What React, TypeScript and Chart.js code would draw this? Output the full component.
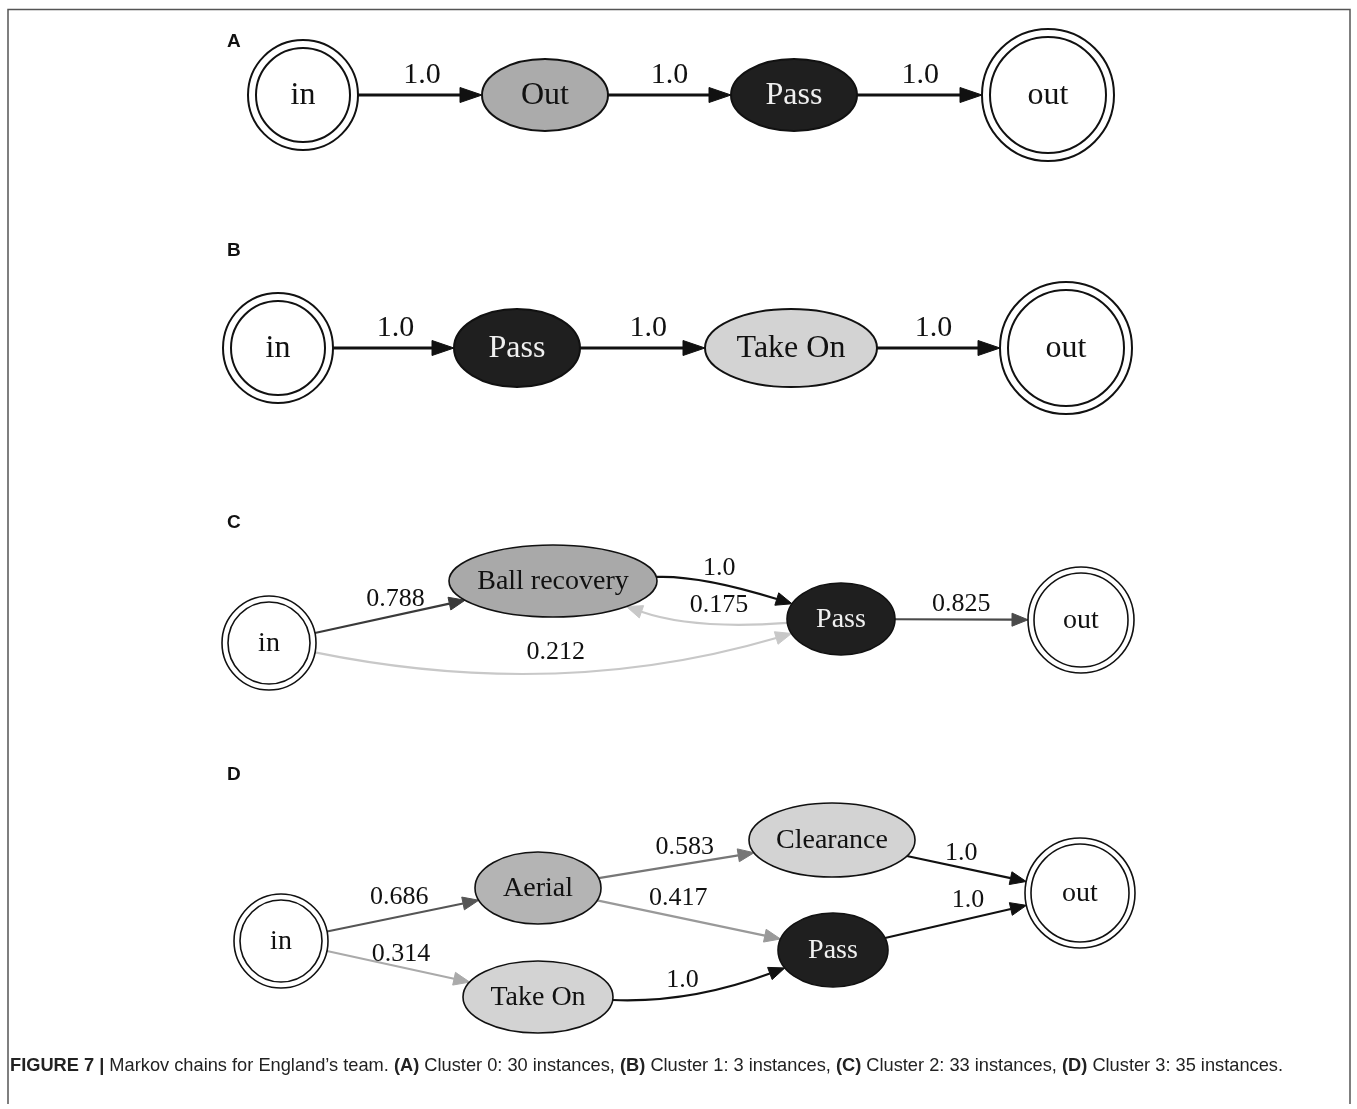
import React, { useEffect, useRef } from "react";
import { Chart, registerables } from "chart.js";
Chart.register(...registerables);

const W = 1357;
const H = 1109;

// ---------------- DATA ----------------
const panelLetters = ["A", "B", "C", "D"];

// Panel A (Cluster 0)
const A_nodes = ["in", "Out", "Pass", "out"];
const A_from = [0, 1, 2];
const A_to = [1, 2, 3];
const A_prob = [1.0, 1.0, 1.0];

// Panel B (Cluster 1)
const B_nodes = ["in", "Pass", "Take On", "out"];
const B_from = [0, 1, 2];
const B_to = [1, 2, 3];
const B_prob = [1.0, 1.0, 1.0];

// Panel C (Cluster 2)
const C_nodes = ["in", "Ball recovery", "Pass", "out"];
const C_from = [0, 0, 1, 2, 2];
const C_to = [1, 2, 2, 1, 3];
const C_prob = [0.788, 0.212, 1.0, 0.175, 0.825];

// Panel D (Cluster 3)
const D_nodes = ["in", "Aerial", "Take On", "Clearance", "Pass", "out"];
const D_from = [0, 0, 1, 1, 2, 3, 4];
const D_to = [1, 2, 3, 4, 4, 5, 5];
const D_prob = [0.686, 0.314, 0.583, 0.417, 1.0, 1.0, 1.0];

const captionSegments = [
  "FIGURE 7 | ",
  "Markov chains for England\u2019s team. ",
  "(A)",
  " Cluster 0: 30 instances, ",
  "(B)",
  " Cluster 1: 3 instances, ",
  "(C)",
  " Cluster 2: 33 instances, ",
  "(D)",
  " Cluster 3: 35 instances.",
];
const captionBold = [true, false, true, false, true, false, true, false, true, false];

// ---------------- LAYOUT (chart units) ----------------
const A_x = [303, 545, 794, 1048];
const A_y = [95, 95, 95, 95];
const B_x = [278, 517, 791, 1066];
const B_y = [348, 348, 348, 348];
const C_x = [269, 553, 841, 1081];
const C_y = [643, 581, 619, 620];
const D_x = [281, 538, 538, 832, 833, 1080];
const D_y = [941, 888, 997, 840, 950, 893];
const letterX = [227, 227, 227, 227];
const letterY = [42, 251, 523, 775];

// ---------------- STYLES ----------------
const BLACK_FILL = "#1f1f1f";
const styleA = {
  rx: [55, 63, 63, 66], ry: [55, 36, 36, 66],
  dbl: [true, false, false, true],
  fill: ["#fff", "#ababab", BLACK_FILL, "#fff"],
  text: ["#111", "#111", "#f0f0f0", "#111"],
  edgeColor: ["#111", "#111", "#111"], bend: [0, 0, 0],
  ldx: [0, 0, 0], ldy: [-20, -20, -20],
  nodeFont: 32, edgeFont: 30, lw: 3, nodeLw: 2, gap: 8, arrowLen: 22, arrowHalf: 7.5,
};
const styleB = {
  rx: [55, 63, 86, 66], ry: [55, 39, 39, 66],
  dbl: [true, false, false, true],
  fill: ["#fff", BLACK_FILL, "#d3d3d3", "#fff"],
  text: ["#111", "#f0f0f0", "#111", "#111"],
  edgeColor: ["#111", "#111", "#111"], bend: [0, 0, 0],
  ldx: [0, 0, 0], ldy: [-20, -20, -20],
  nodeFont: 32, edgeFont: 30, lw: 3, nodeLw: 2, gap: 8, arrowLen: 22, arrowHalf: 7.5,
};
const styleC = {
  rx: [47, 104, 54, 53], ry: [47, 36, 36, 53],
  dbl: [true, false, false, true],
  fill: ["#fff", "#a9a9a9", BLACK_FILL, "#fff"],
  text: ["#111", "#111", "#f0f0f0", "#111"],
  edgeColor: ["#3a3a3a", "#c8c8c8", "#111", "#c8c8c8", "#4a4a4a"],
  bend: [0, 71, -25, -30, 0],
  ldx: [-5, 0, 7, 19, 0], ldy: [-15, -20, -15, -17, -15],
  nodeFont: 28, edgeFont: 26, lw: 2.2, nodeLw: 1.6, gap: 6, arrowLen: 16, arrowHalf: 6.5,
};
const styleD = {
  rx: [47, 63, 75, 83, 55, 55], ry: [47, 36, 36, 37, 37, 55],
  dbl: [true, false, false, false, false, true],
  fill: ["#fff", "#b4b4b4", "#d3d3d3", "#d3d3d3", BLACK_FILL, "#fff"],
  text: ["#111", "#111", "#111", "#111", "#f0f0f0", "#111"],
  edgeColor: ["#555", "#aaa", "#777", "#999", "#111", "#111", "#111"],
  bend: [0, 0, 0, 0, 30, 0, 0],
  ldx: [-7, -3, 4, -9, -12, 0, 12], ldy: [-18, -14, -18, -21, -13, -14, -21],
  nodeFont: 28, edgeFont: 26, lw: 2.2, nodeLw: 1.6, gap: 6, arrowLen: 16, arrowHalf: 6.5,
};

const panels = [
  { nodes: A_nodes, from: A_from, to: A_to, prob: A_prob, xs: A_x, ys: A_y, st: styleA },
  { nodes: B_nodes, from: B_from, to: B_to, prob: B_prob, xs: B_x, ys: B_y, st: styleB },
  { nodes: C_nodes, from: C_from, to: C_to, prob: C_prob, xs: C_x, ys: C_y, st: styleC },
  { nodes: D_nodes, from: D_from, to: D_to, prob: D_prob, xs: D_x, ys: D_y, st: styleD },
];

const SERIF = '"Liberation Serif", "Times New Roman", Times, serif';
const SANS = '"Liberation Sans", Arial, Helvetica, sans-serif';

function fmtProb(v: number) {
  return Number.isInteger(v) ? v.toFixed(1) : String(v);
}

function boundary(cx: number, cy: number, rx: number, ry: number, tx: number, ty: number) {
  const dx = tx - cx, dy = ty - cy;
  const len = Math.hypot(dx, dy) || 1;
  const ux = dx / len, uy = dy / len;
  const t = 1 / Math.sqrt((ux / rx) ** 2 + (uy / ry) ** 2);
  return [cx + ux * t, cy + uy * t];
}

const graphPlugin = {
  id: "markovGraph",
  beforeDraw(chart: any) {
    const ctx = chart.ctx;
    ctx.save();
    ctx.fillStyle = "#ffffff";
    ctx.fillRect(0, 0, chart.width, chart.height);
    ctx.restore();
  },
  afterDatasetsDraw(chart: any) {
    const ctx: CanvasRenderingContext2D = chart.ctx;
    const xs = chart.scales.x;
    const ys = chart.scales.y;
    const px = (v: number) => xs.getPixelForValue(v);
    const py = (v: number) => ys.getPixelForValue(v);
    const sx = (d: number) => Math.abs(xs.getPixelForValue(d) - xs.getPixelForValue(0));
    const sy = (d: number) => Math.abs(ys.getPixelForValue(d) - ys.getPixelForValue(0));

    ctx.save();
    // frame
    ctx.strokeStyle = "#555";
    ctx.lineWidth = 1.5;
    ctx.beginPath();
    ctx.moveTo(px(8), py(1104));
    ctx.lineTo(px(8), py(9.5));
    ctx.lineTo(px(1350), py(9.5));
    ctx.lineTo(px(1350), py(1104));
    ctx.stroke();

    // panel letters
    ctx.fillStyle = "#111";
    ctx.font = `bold 19px ${SANS}`;
    ctx.textAlign = "left";
    ctx.textBaseline = "middle";
    panelLetters.forEach((l, i) => ctx.fillText(l, px(letterX[i]), py(letterY[i])));

    panels.forEach((p) => {
      const st = p.st;
      const N = p.nodes.length;
      const cx = p.nodes.map((_, i) => px(p.xs[i]));
      const cy = p.nodes.map((_, i) => py(p.ys[i]));
      const rx = p.nodes.map((_, i) => sx(st.rx[i]));
      const ry = p.nodes.map((_, i) => sy(st.ry[i]));

      // edges
      p.from.forEach((f, e) => {
        const t = p.to[e];
        const mx = (cx[f] + cx[t]) / 2, my = (cy[f] + cy[t]) / 2;
        const dx = cx[t] - cx[f], dy = cy[t] - cy[f];
        const len = Math.hypot(dx, dy);
        const nx = -dy / len, ny = dx / len;
        const b = st.bend[e];
        const kx = mx + nx * b, ky = my + ny * b;
        const [sx0, sy0] = boundary(cx[f], cy[f], rx[f], ry[f], kx, ky);
        const [ex, ey] = boundary(cx[t], cy[t], rx[t], ry[t], kx, ky);
        let tx = ex - kx, ty = ey - ky;
        const tl = Math.hypot(tx, ty) || 1;
        tx /= tl; ty /= tl;
        const bx = ex - tx * st.arrowLen, by = ey - ty * st.arrowLen;
        ctx.strokeStyle = st.edgeColor[e];
        ctx.fillStyle = st.edgeColor[e];
        ctx.lineWidth = st.lw;
        ctx.lineCap = "butt";
        ctx.beginPath();
        ctx.moveTo(sx0, sy0);
        if (b === 0) ctx.lineTo(bx, by);
        else ctx.quadraticCurveTo(kx, ky, bx, by);
        ctx.stroke();
        ctx.beginPath();
        ctx.moveTo(ex, ey);
        ctx.lineTo(bx - ty * st.arrowHalf, by + tx * st.arrowHalf);
        ctx.lineTo(bx + ty * st.arrowHalf, by - tx * st.arrowHalf);
        ctx.closePath();
        ctx.fill();
        ctx.lineWidth = 1;
        ctx.stroke();
        const lmx = 0.25 * sx0 + 0.5 * kx + 0.25 * ex;
        const lmy = 0.25 * sy0 + 0.5 * ky + 0.25 * ey;
        ctx.fillStyle = "#111";
        ctx.font = `${st.edgeFont}px ${SERIF}`;
        ctx.textAlign = "center";
        ctx.textBaseline = "middle";
        ctx.fillText(fmtProb(p.prob[e]), lmx + st.ldx[e], lmy + st.ldy[e]);
      });

      // nodes
      for (let i = 0; i < N; i++) {
        ctx.lineWidth = st.nodeLw;
        ctx.strokeStyle = "#111";
        ctx.fillStyle = st.fill[i];
        ctx.beginPath();
        ctx.ellipse(cx[i], cy[i], rx[i], ry[i], 0, 0, Math.PI * 2);
        ctx.fill();
        ctx.stroke();
        if (st.dbl[i]) {
          ctx.beginPath();
          ctx.ellipse(cx[i], cy[i], rx[i] - st.gap, ry[i] - st.gap, 0, 0, Math.PI * 2);
          ctx.stroke();
        }
        ctx.fillStyle = st.text[i];
        ctx.font = `${st.nodeFont}px ${SERIF}`;
        ctx.textAlign = "center";
        ctx.textBaseline = "middle";
        ctx.fillText(p.nodes[i], cx[i], cy[i] + 1);
      }
    });

    // caption
    const fonts = captionBold.map((b) => (b ? `bold 19px ${SANS}` : `19px ${SANS}`));
    let total = 0;
    captionSegments.forEach((s, i) => {
      ctx.font = fonts[i];
      total += ctx.measureText(s).width;
    });
    const target = px(1283) - px(10);
    ctx.translate(px(10), py(1066));
    ctx.scale(target / total, 1);
    ctx.textAlign = "left";
    ctx.textBaseline = "middle";
    ctx.fillStyle = "#222";
    let cur = 0;
    captionSegments.forEach((s, i) => {
      ctx.font = fonts[i];
      ctx.fillText(s, cur, 0);
      cur += ctx.measureText(s).width;
    });
    ctx.restore();
  },
};

export default function App() {
  const ref = useRef<HTMLCanvasElement | null>(null);
  useEffect(() => {
    if (!ref.current) return;
    const chart = new Chart(ref.current, {
      type: "scatter",
      data: {
        datasets: panels.map((p, k) => ({
          label: panelLetters[k],
          data: p.xs.map((x, i) => ({ x, y: p.ys[i] })),
          pointRadius: 0,
          showLine: false,
        })),
      },
      options: {
        responsive: false,
        animation: false,
        devicePixelRatio: 1,
        events: [],
        layout: { padding: 0 },
        plugins: { legend: { display: false }, tooltip: { enabled: false }, title: { display: false } },
        scales: {
          x: { type: "linear", min: 0, max: W, display: false },
          y: { type: "linear", min: 0, max: H, reverse: true, display: false },
        },
      },
      plugins: [graphPlugin],
    } as any);
    return () => chart.destroy();
  }, []);
  return (
    <div style={{ position: "absolute", left: 0, top: 0, width: W, height: H, background: "#fff" }}>
      <canvas ref={ref} width={W} height={H} style={{ display: "block" }} />
    </div>
  );
}
